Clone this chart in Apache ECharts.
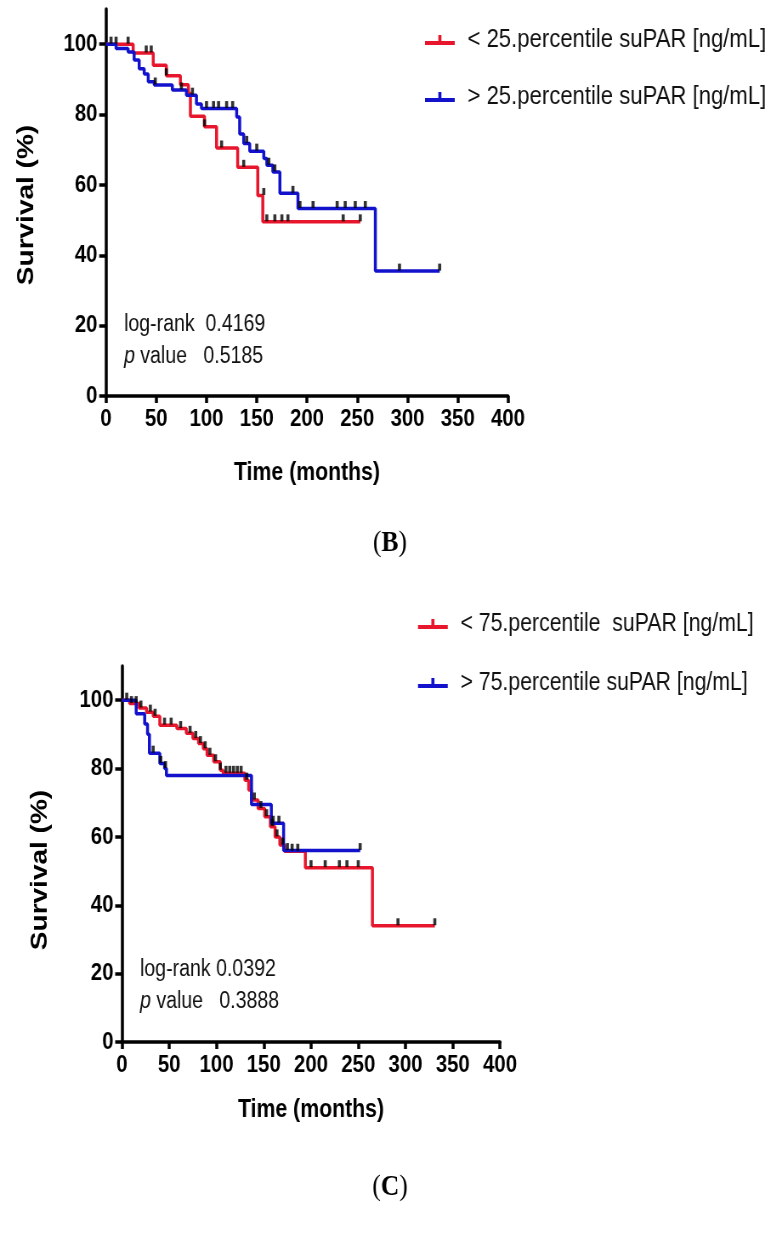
<!DOCTYPE html>
<html><head><meta charset="utf-8">
<script src="https://cdn.jsdelivr.net/npm/echarts@6/dist/echarts.min.js"></script>
<style>
html,body{margin:0;padding:0;background:#fff;overflow:hidden}
#c{width:918px;height:1243px;transform:scaleX(0.85);transform-origin:0 0}
</style>
</head><body><div id="c"></div><script>
// ---------- shared ticks ----------
const xTicks = [0, 50, 100, 150, 200, 250, 300, 350, 400];
const yTicks = [0, 20, 40, 60, 80, 100];

// ---------- Panel B ----------
const bLowName = '< 25.percentile suPAR [ng/mL]';
const bHighName = '> 25.percentile suPAR [ng/mL]';
const bLowTime = [0, 27, 47, 60, 74, 82, 84, 98, 110, 131, 151, 156, 253];
const bLowSurv = [100, 97.5, 94, 91, 88.5, 86, 79.5, 76.5, 70.5, 65, 57, 49.5, 49.5];
const bLowCensT = [5, 10, 22, 40, 45, 60, 98, 115, 137, 157, 160, 168, 175, 181, 236, 253];
const bLowCensS = [100, 100, 100, 97.5, 97.5, 91, 76.5, 70.5, 65, 57, 49.5, 49.5, 49.5, 49.5, 49.5, 49.5];
const bHighTime = [0, 10, 22, 28, 33, 38, 42, 48, 66, 80, 90, 95, 130, 133, 137, 143, 157, 160, 166, 173, 191, 268, 332];
const bHighSurv = [100, 98.8, 97.8, 95.5, 93, 91.5, 89.3, 88.4, 87, 85.5, 83, 81.7, 79.3, 74.5, 71.8, 69.6, 67.5, 65.6, 63.7, 57.6, 53.3, 35.5, 35.5];
const bHighCensT = [49, 75, 86, 100, 107, 112, 120, 126, 140, 150, 162, 168, 186, 193, 206, 230, 238, 248, 258, 292, 332];
const bHighCensS = [88.4, 87, 85.5, 81.7, 81.7, 81.7, 81.7, 81.7, 71.8, 69.6, 65.6, 63.7, 57.6, 53.3, 53.3, 53.3, 53.3, 53.3, 53.3, 35.5, 35.5];
const bStats = ['log-rank  0.4169', '0.5185'];

// ---------- Panel C ----------
const cLowName = '< 75.percentile  suPAR [ng/mL]';
const cHighName = '> 75.percentile suPAR [ng/mL]';
const cLowTime = [0, 8, 18, 26, 33, 40, 58, 68, 75, 81, 86, 90, 97, 104, 107, 130, 134, 137, 144, 151, 157, 162, 167, 172, 194, 265, 331];
const cLowSurv = [100, 99, 97.7, 96.5, 95.3, 92.7, 91.7, 90.3, 88.8, 87.3, 85.8, 83.9, 82, 79.5, 78.6, 76.6, 73.7, 70.8, 68.3, 65.9, 63, 60, 57.6, 55.8, 51, 34, 34];
const cLowCensT = [5, 10, 15, 20, 30, 35, 45, 52, 62, 72, 78, 83, 88, 93, 99, 104, 110, 114, 118, 122, 126, 132, 140, 147, 153, 159, 164, 170, 180, 186, 200, 215, 230, 238, 250, 292, 331];
const cLowCensS = [100, 99, 99, 97.7, 96.5, 95.3, 92.7, 92.7, 91.7, 90.3, 88.8, 87.3, 85.8, 83.9, 82, 79.5, 78.6, 78.6, 78.6, 78.6, 78.6, 76.6, 70.8, 68.3, 65.9, 63, 60, 57.6, 55.8, 55.8, 51, 51, 51, 51, 51, 34, 34];
const cHighTime = [0, 15, 24, 27, 29, 40, 45, 47, 137, 158, 171, 252];
const cHighSurv = [100, 96, 93, 90, 84.5, 81.5, 80, 78, 69.5, 64, 56, 56];
const cHighCensT = [33, 41, 46, 160, 166, 175, 252];
const cHighCensS = [84.5, 81.5, 80, 64, 64, 56, 56];
const cStats = ['log-rank 0.0392', '0.3888'];

const RED = '#e8162c', BLUE = '#1212cc';
const SANS = "'Liberation Sans', Arial, sans-serif";
const SX = 0.85;                 // the page is drawn condensed horizontally (CSS scaleX)
const px = v => v / SX;          // layout helper: screen x -> pre-scale x

const zip = (a, b) => a.map((v, i) => [v, b[i]]);

function axes(idx) {
  const x = {
    type: 'value', gridIndex: idx, min: 0, max: 400, interval: 50,
    axisLine: { show: true, onZero: false, lineStyle: { color: '#000', width: 3.5 } },
    axisTick: { show: true, length: 7, lineStyle: { color: '#000', width: 3.5 } },
    axisLabel: { color: '#000', fontFamily: SANS, fontWeight: 'bold', fontSize: 24, margin: 11,
      customValues: xTicks },
    splitLine: { show: false }
  };
  const y = {
    type: 'value', gridIndex: idx, min: 0, max: 110, interval: 20,
    axisLine: { show: true, onZero: false, lineStyle: { color: '#000', width: 3.5 } },
    axisTick: { show: true, length: 8, lineStyle: { color: '#000', width: 3.5 }, customValues: yTicks },
    axisLabel: { color: '#000', fontFamily: SANS, fontWeight: 'bold', fontSize: 24, margin: 10,
      customValues: yTicks },
    splitLine: { show: false }
  };
  return [x, y];
}
const [xB, yB] = axes(0);
const [xC, yC] = axes(1);

function curve(name, t, s, color, idx) {
  return { name, type: 'line', step: 'end', xAxisIndex: idx, yAxisIndex: idx,
    data: zip(t, s), showSymbol: false, color, lineStyle: { color, width: 3.5 },
    itemStyle: { color }, z: 3, silent: true };
}
function cens(t, s, idx) {
  return { type: 'scatter', xAxisIndex: idx, yAxisIndex: idx, data: zip(t, s),
    symbol: 'rect', symbolSize: [3.6, 7], symbolOffset: [0, -4],
    itemStyle: { color: '#000' }, z: 4, silent: true };
}

const legendIcon = 'path://M0,6h35v4h-35zM15.7,0h3.6v6h-3.6z';
function legend(names, left, top, gap, fs) {
  return { data: names, orient: 'vertical', left, top, itemGap: gap, selectedMode: false, padding: 0,
    itemWidth: 35, itemHeight: 10, icon: legendIcon,
    textStyle: { fontFamily: SANS, fontSize: fs, color: '#111', lineHeight: 30, padding: [0, 0, 0, 10] } };
}

function txt(text, x, y, font, extra) {
  return Object.assign({ type: 'text', x, y, style: { text, font, fill: '#000',
    textAlign: 'center', textVerticalAlign: 'middle' } }, extra || {});
}
function stats(lines, x, y1, y2) {
  return [
    { type: 'text', x, y: y1, style: { text: lines[0], font: '23px ' + SANS, fill: '#111', textVerticalAlign: 'middle' } },
    { type: 'text', x, y: y2, style: { text: '{i|p} value   ' + lines[1], font: '23px ' + SANS, fill: '#111', textVerticalAlign: 'middle',
        rich: { i: { fontStyle: 'italic', fontFamily: SANS, fontSize: 23, fill: '#111' } } } }
  ];
}
function panelLabel(letter, x, y) {
  return { type: 'text', x, y, style: { text: '({b|' + letter + '})', font: '30px "Liberation Serif", serif', fill: '#000',
    textAlign: 'center', textVerticalAlign: 'middle',
    rich: { b: { fontWeight: 'bold', fontFamily: '"Liberation Serif", serif', fontSize: 30 } } } };
}

const option = {
  animation: false,
  backgroundColor: '#fff',
  grid: [
    { left: px(106), top: 9, width: px(402), height: 387 },
    { left: px(122), top: 666, width: px(378), height: 376 }
  ],
  xAxis: [xB, xC],
  yAxis: [yB, yC],
  legend: [
    legend([bLowName, bHighName], px(425), 25, 27, 26),
    legend([cLowName, cHighName], px(418), 609, 29, 25)
  ],
  series: [
    curve(bLowName, bLowTime, bLowSurv, RED, 0),
    curve(bHighName, bHighTime, bHighSurv, BLUE, 0),
    cens(bLowCensT, bLowCensS, 0),
    cens(bHighCensT, bHighCensS, 0),
    curve(cLowName, cLowTime, cLowSurv, RED, 1),
    curve(cHighName, cHighTime, cHighSurv, BLUE, 1),
    cens(cLowCensT, cLowCensS, 1),
    cens(cHighCensT, cHighCensS, 1)
  ],
  graphic: [
    txt('Survival (%)', px(27), 205, 'bold 28px ' + SANS, { rotation: Math.PI / 2 }),
    txt('Time (months)', px(307), 473, 'bold 25px ' + SANS),
    txt('Survival (%)', px(40), 870, 'bold 28px ' + SANS, { rotation: Math.PI / 2 }),
    txt('Time (months)', px(311), 1110, 'bold 25px ' + SANS),
    ...stats(bStats, px(124), 325, 357),
    ...stats(cStats, px(140), 970, 1002),
    panelLabel('B', px(390), 543),
    panelLabel('C', px(390), 1187)
  ]
};
const chart = echarts.init(document.getElementById('c'), null, { renderer: 'canvas' });
chart.setOption(option);
</script></body></html>
